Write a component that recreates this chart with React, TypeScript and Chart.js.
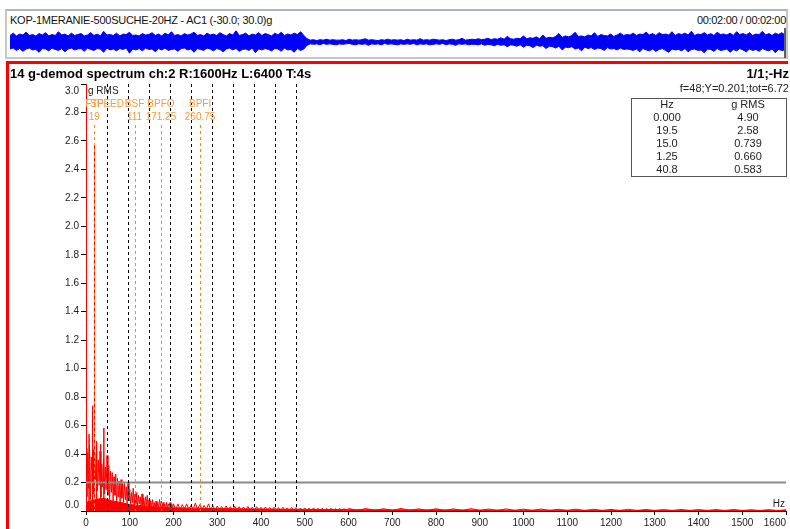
import React, { useEffect, useRef } from 'react';
import { Chart, registerables } from 'chart.js';

Chart.register(...registerables);

const FONT = '"Liberation Sans", Arial, Helvetica, sans-serif';
const ORANGE_LINE = '#ff8c00';
const ORANGE_TEXT = '#ff9933';

// ---------- Time waveform (envelope, g), 0.5 s steps over 120 s ----------
const waveStepS = 0.5;
const waveTop = [
  14, 19, 13, 17, 15, 21, 14, 16, 13, 18, 15, 20, 13, 16, 14, 22, 15, 17, 13, 19,
  14, 16, 18, 13, 15, 20, 14, 17, 13, 23, 15, 16, 14, 19, 13, 17, 16, 21, 14, 15,
  13, 18, 15, 16, 20, 14, 17, 13, 19, 15, 22, 14, 16, 13, 18, 15, 17, 21, 14, 16,
  13, 19, 15, 17, 14, 20, 16, 13, 18, 15, 24, 14, 16, 19, 13, 17, 15, 20, 14, 18,
  16, 13, 19, 15, 21, 14, 17, 15, 19, 16, 22, 14,
  7,
  4, 5, 3, 5, 4, 6, 4, 5, 4, 4, 5, 3, 6, 4, 5, 4, 5, 7, 4, 5,
  4, 3, 5, 4, 6, 4, 5, 4, 5, 3, 6, 4, 5, 4, 7, 4, 5, 4, 6, 5,
  4, 5, 3, 5, 6, 4, 5, 8, 4, 5, 6,
  5, 7, 5, 6, 8, 5, 7, 6, 9, 6, 12, 7, 6, 8, 7, 13, 7, 9, 8, 11, 7, 15, 8, 10,
  9, 12, 18, 10, 13, 11, 14, 21, 12, 13, 11, 15, 13, 20, 12, 16, 14, 13, 17, 12, 15, 19, 14, 16,
  15, 19, 14, 17, 16, 21, 15, 18, 14, 20, 16, 17, 15, 22, 14, 18, 16, 19, 15, 23,
  14, 17, 16, 20, 15, 18, 14, 21, 16, 17, 15, 19, 14, 22, 16, 18, 15, 20, 14, 17,
  16, 23, 15, 18, 14, 19, 16, 20, 15,
];
const waveBottom = [
  -15, -13, -18, -14, -20, -15, -13, -17, -16, -22, -14, -15, -19, -13, -16, -18, -14, -21, -15, -13,
  -17, -15, -14, -20, -13, -16, -18, -14, -15, -22, -13, -17, -15, -19, -14, -16, -13, -24, -15, -17,
  -14, -19, -13, -16, -15, -21, -14, -17, -13, -18, -16, -15, -20, -14, -13, -17, -15, -22, -14, -16,
  -18, -13, -15, -19, -14, -16, -21, -15, -13, -17, -14, -20, -16, -15, -18, -13, -23, -15, -17, -14,
  -16, -19, -14, -15, -20, -13, -17, -16, -22, -14, -18, -15,
  -7,
  -4, -5, -4, -6, -3, -5, -4, -5, -6, -4, -5, -4, -3, -5, -6, -4, -5, -4, -7, -4,
  -5, -4, -6, -3, -5, -4, -5, -6, -4, -5, -4, -5, -3, -6, -4, -5, -4, -6, -5, -4,
  -5, -3, -6, -4, -5, -7, -4, -5, -4, -6, -5,
  -5, -6, -4, -7, -5, -6, -8, -5, -7, -6, -10, -6, -7, -9, -6, -11, -7, -8, -12, -7, -9, -8, -14, -9,
  -10, -13, -9, -17, -11, -12, -10, -15, -13, -19, -11, -14, -12, -16, -13, -14, -18, -12, -15, -14, -17, -13, -16, -15,
  -16, -18, -15, -21, -14, -17, -19, -15, -20, -16, -14, -18, -22, -15, -17, -16, -19, -14, -21, -16,
  -15, -18, -17, -23, -15, -16, -20, -14, -18, -17, -15, -22, -16, -19, -14, -17, -21, -15, -18, -16,
  -20, -14, -17, -19, -15, -23, -16, -18, -17,
];

// ---------- Spectrum (g RMS) ----------
const lowBandStartHz = 0;
const lowBandStepHz = 2;
const lowBandAmp = [
  0.44, 0.1, 0.41, 0.16, 0.46, 0.08, 0.38, 0.2, 0.43, 0.12,
  0.39, 0.22, 0.45, 0.14, 0.36, 0.18, 0.42, 0.1, 0.33, 0.17,
  0.37, 0.12, 0.31, 0.15, 0.39, 0.11, 0.32, 0.08, 0.28, 0.13,
  0.27, 0.07, 0.24, 0.11, 0.26, 0.06, 0.23, 0.1, 0.21, 0.05,
  0.22, 0.09, 0.19, 0.06, 0.2, 0.08, 0.17, 0.05, 0.2, 0.07,
  0.15, 0.04, 0.13, 0.06, 0.16, 0.04, 0.12, 0.05, 0.13, 0.03,
  0.11, 0.05, 0.1, 0.03, 0.12, 0.04, 0.09, 0.03, 0.1, 0.04,
  0.11, 0.02, 0.08, 0.03, 0.07, 0.02, 0.08, 0.03, 0.06, 0.02,
  0.07, 0.03, 0.06, 0.02, 0.08, 0.03, 0.07, 0.02, 0.06, 0.03,
  0.05, 0.02, 0.06, 0.02, 0.05, 0.03, 0.06, 0.02, 0.05, 0.02,
  0.05,
];
const midBandStartHz = 205;
const midBandStepHz = 5;
const midBandAmp = [
  0.01, 0.05, 0.01, 0.045, 0.015, 0.05, 0.01, 0.04, 0.01, 0.055, 0.012, 0.045, 0.01, 0.04, 0.01, 0.05, 0.01, 0.038, 0.008, 0.035,
  0.008, 0.032, 0.007, 0.036, 0.008, 0.03, 0.006, 0.034, 0.007, 0.03, 0.006, 0.028, 0.007, 0.032, 0.006, 0.027, 0.006, 0.03, 0.005, 0.026,
  0.006, 0.028, 0.005, 0.025, 0.006, 0.027, 0.005, 0.024, 0.005, 0.026, 0.005, 0.022, 0.005, 0.025, 0.004, 0.024, 0.005, 0.021, 0.004, 0.022,
  0.004, 0.02, 0.004, 0.022, 0.004, 0.019, 0.004, 0.02, 0.003, 0.018, 0.004, 0.02, 0.003, 0.017, 0.004, 0.019, 0.003, 0.016, 0.003, 0.018,
];
const highBandStartHz = 620;
const highBandStepHz = 20;
const highBandAmp = [
  0.004, 0.017, 0.004, 0.016, 0.003, 0.018, 0.004, 0.015, 0.003, 0.016,
  0.003, 0.015, 0.003, 0.017, 0.003, 0.014, 0.003, 0.015, 0.003, 0.013,
  0.003, 0.014, 0.003, 0.012, 0.003, 0.013, 0.002, 0.012, 0.003, 0.011,
  0.002, 0.012, 0.002, 0.011, 0.002, 0.01, 0.002, 0.011, 0.002, 0.01,
  0.002, 0.01, 0.002, 0.011, 0.002, 0.009, 0.002, 0.01, 0.002, 0.009,
];
const floorHz = [0, 20, 40, 60, 80, 100, 120, 140, 160, 180, 200, 250, 300, 350, 400, 450, 500, 600, 700, 800, 900, 1000, 1200, 1400, 1600];
const floorAmp = [0.06, 0.08, 0.09, 0.07, 0.06, 0.045, 0.04, 0.033, 0.028, 0.025, 0.022, 0.02, 0.017, 0.015, 0.014, 0.012, 0.011, 0.009, 0.008, 0.008, 0.007, 0.006, 0.005, 0.005, 0.004];
const peakHz = [0, 1.25, 7.0, 15.0, 19.25, 19.5, 24.25, 33.5, 40.8];
const peakAmp = [4.9, 0.66, 0.54, 0.739, 1.67, 2.58, 0.49, 0.47, 0.583];

// ---------- Markers ----------
const speedHz = 48;
const speedHarmonicsHz = [48, 96, 144, 192, 240, 288, 336, 384, 432, 480];
const bearingNames = ['FTF', 'BSF', 'BPFO', 'BPFI'];
const bearingHz = [19, 111, 171.25, 260.75];
const bearingValueLabels = ['19', '111', '171.25', '260.75'];
const cursorY = 0.201;

// ---------- Axes ----------
const xMinHz = 0;
const xMaxHz = 1600;
const xStepHz = 100;
const yMin = 0;
const yMax = 3.0;
const yStep = 0.2;

// ---------- Peak table ----------
const tableHz = ['0.000', '19.5', '15.0', '1.25', '40.8'];
const tableRms = ['4.90', '2.58', '0.739', '0.660', '0.583'];

function band(start: number, step: number, amps: number[]) {
  return amps.map((a, i) => ({ x: start + i * step, y: a }));
}

const spectrumOverlay = {
  id: 'spectrumOverlay',
  afterDatasetsDraw(chart: any) {
    const { ctx, chartArea: a, scales } = chart;
    const x = scales.x;
    const y = scales.y;
    ctx.save();
    // cursor line
    const cy = y.getPixelForValue(cursorY);
    ctx.strokeStyle = '#8a8a8a';
    ctx.lineWidth = 2;
    ctx.beginPath();
    ctx.moveTo(a.left, cy);
    ctx.lineTo(a.right, cy);
    ctx.stroke();
    // speed harmonics
    ctx.lineWidth = 1;
    ctx.setLineDash([3, 3]);
    ctx.strokeStyle = '#000';
    for (const f of speedHarmonicsHz) {
      const px = Math.round(x.getPixelForValue(f)) + 0.5;
      ctx.beginPath();
      ctx.moveTo(px, a.top);
      ctx.lineTo(px, a.bottom);
      ctx.stroke();
    }
    ctx.strokeStyle = ORANGE_LINE;
    for (const f of bearingHz) {
      const px = Math.round(x.getPixelForValue(f)) + 0.5;
      ctx.beginPath();
      ctx.moveTo(px, a.top + 41);
      ctx.lineTo(px, a.bottom);
      ctx.stroke();
    }
    ctx.setLineDash([]);
    // marker labels
    ctx.font = `10px ${FONT}`;
    ctx.textAlign = 'center';
    ctx.textBaseline = 'middle';
    ctx.fillStyle = ORANGE_TEXT;
    bearingNames.forEach((n, i) => ctx.fillText(n, x.getPixelForValue(bearingHz[i]), a.top + 20));
    ctx.fillText('SPEED', x.getPixelForValue(speedHz), a.top + 20);
    bearingValueLabels.forEach((n, i) => ctx.fillText(n, x.getPixelForValue(bearingHz[i]), a.top + 33));
    // axis captions
    ctx.fillStyle = '#222';
    ctx.textAlign = 'left';
    ctx.fillText('g RMS', a.left + 2, a.top + 7);
    ctx.textAlign = 'right';
    ctx.fillText('Hz', a.right - 1, a.bottom - 7);
    // clamped end tick labels
    ctx.fillText(yMax.toFixed(1), a.left - 7, a.top + 7.5);
    ctx.fillText(yMin.toFixed(1), a.left - 7, a.bottom - 6);
    ctx.fillText(String(xMaxHz), a.right, a.bottom + 12);
    ctx.restore();
  },
};

export default function App() {
  const waveRef = useRef<HTMLCanvasElement>(null);
  const specRef = useRef<HTMLCanvasElement>(null);

  useEffect(() => {
    Chart.defaults.font.family = FONT;
    Chart.defaults.color = '#222';

    const wave = new Chart(waveRef.current as HTMLCanvasElement, {
      type: 'line',
      data: {
        datasets: [
          {
            data: waveTop.map((v, i) => ({ x: i * waveStepS, y: v })),
            fill: '+1',
            backgroundColor: '#0000ff',
            borderColor: '#0000ff',
            borderWidth: 1,
            pointRadius: 0,
            tension: 0,
          },
          {
            data: waveBottom.map((v, i) => ({ x: i * waveStepS, y: v })),
            fill: false,
            borderColor: '#0000ff',
            borderWidth: 1,
            pointRadius: 0,
            tension: 0,
          },
        ],
      },
      options: {
        responsive: true,
        maintainAspectRatio: false,
        animation: false,
        events: [],
        layout: { padding: 0 },
        plugins: { legend: { display: false }, tooltip: { enabled: false } },
        scales: {
          x: { type: 'linear', display: false, min: 0, max: 120 },
          y: { type: 'linear', display: false, min: -30, max: 30 },
        },
      },
    });

    const peakPoints: { x: number; y: number }[] = [];
    peakHz.forEach((f, i) => {
      peakPoints.push({ x: f, y: 0 }, { x: f, y: peakAmp[i] }, { x: f, y: 0 });
    });

    const spec = new Chart(specRef.current as HTMLCanvasElement, {
      type: 'line',
      data: {
        datasets: [
          {
            data: floorHz.map((f, i) => ({ x: f, y: floorAmp[i] })),
            fill: 'origin',
            backgroundColor: '#ff0000',
            borderColor: '#ff0000',
            borderWidth: 1,
            pointRadius: 0,
          },
          {
            data: [
              ...band(lowBandStartHz, lowBandStepHz, lowBandAmp),
              ...band(midBandStartHz, midBandStepHz, midBandAmp),
              ...band(highBandStartHz, highBandStepHz, highBandAmp),
            ],
            fill: false,
            borderColor: '#ff0000',
            borderWidth: 1,
            pointRadius: 0,
          },
          {
            data: peakPoints,
            fill: false,
            borderColor: '#ff0000',
            borderWidth: 1,
            pointRadius: 0,
          },
        ],
      },
      options: {
        responsive: true,
        maintainAspectRatio: false,
        animation: false,
        events: [],
        layout: { padding: { left: 56, top: 84, right: 4, bottom: 0 } },
        plugins: { legend: { display: false }, tooltip: { enabled: false } },
        scales: {
          x: {
            type: 'linear',
            min: xMinHz,
            max: xMaxHz,
            ticks: {
              stepSize: xStepHz,
              autoSkip: false,
              maxRotation: 0,
              padding: 2,
              font: { size: 10, family: FONT },
              color: '#222',
              callback: (v: any) => (Number(v) >= xMaxHz ? '' : String(v)),
            },
            grid: { display: true, drawOnChartArea: false, drawTicks: true, tickLength: 4, tickColor: '#000' },
            border: { display: true, color: '#000', width: 1 },
            afterFit: (s: any) => {
              s.height = 18;
            },
          },
          y: {
            type: 'linear',
            min: yMin,
            max: yMax,
            ticks: {
              stepSize: yStep,
              padding: 2,
              font: { size: 10, family: FONT },
              color: '#222',
              callback: (v: any) => {
                const n = Number(v);
                if (n > yMax - 0.01 || n < yMin + 0.01) return '';
                return n.toFixed(1);
              },
            },
            grid: { display: true, drawOnChartArea: false, drawTicks: true, tickLength: 5, tickColor: '#000' },
            border: { display: true, color: '#000', width: 1 },
            afterFit: (s: any) => {
              s.width = 30;
            },
          },
        },
      },
      plugins: [spectrumOverlay],
    });

    return () => {
      wave.destroy();
      spec.destroy();
    };
  }, []);

  const cell = (text: string, center: number, top: number, key: string) => (
    <div
      key={key}
      style={{
        position: 'absolute',
        left: center - 40,
        top,
        width: 80,
        textAlign: 'center',
        fontSize: 11,
        lineHeight: '13px',
        color: '#222',
      }}
    >
      {text}
    </div>
  );

  return (
    <div
      style={{
        position: 'fixed',
        left: 0,
        top: 0,
        width: 790,
        height: 529,
        overflow: 'hidden',
        background: '#fff',
        fontFamily: FONT,
      }}
    >
      <div style={{ position: 'absolute', left: 0, top: 0, width: 790, height: 529 }}>
        <canvas ref={specRef} />
      </div>

      {/* top waveform panel */}
      <div
        style={{
          position: 'absolute',
          left: 5,
          top: 9,
          width: 783,
          height: 50,
          boxSizing: 'border-box',
          border: '2px solid #c6c6c6',
          borderTopColor: '#a8b6c4',
          background: '#fff',
        }}
      />
      <div
        style={{
          position: 'absolute',
          left: 10,
          top: 14,
          fontSize: 11,
          lineHeight: '13px',
          letterSpacing: '-0.25px',
          color: '#111',
          whiteSpace: 'nowrap',
        }}
      >
        KOP-1MERANIE-500SUCHE-20HZ - AC1 (-30.0; 30.0)g
      </div>
      <div
        style={{
          position: 'absolute',
          right: 4,
          top: 14,
          fontSize: 11,
          lineHeight: '13px',
          letterSpacing: '-0.3px',
          color: '#111',
          whiteSpace: 'nowrap',
        }}
      >
        00:02:00 / 00:02:00
      </div>
      <div style={{ position: 'absolute', left: 10, top: 28, width: 775, height: 28 }}>
        <canvas ref={waveRef} />
      </div>
      <div style={{ position: 'absolute', left: 784, top: 28, width: 2, height: 30, background: '#606060' }} />

      {/* spectrum frame */}
      <div
        style={{
          position: 'absolute',
          left: 6,
          top: 61,
          width: 782,
          height: 480,
          boxSizing: 'border-box',
          borderTop: '3px solid #ff0000',
          borderLeft: '3px solid #ff0000',
        }}
      />
      <div
        style={{
          position: 'absolute',
          left: 10,
          top: 66,
          fontSize: 13,
          fontWeight: 'bold',
          lineHeight: '15px',
          color: '#000',
          whiteSpace: 'nowrap',
        }}
      >
        14 g-demod spectrum ch:2 R:1600Hz L:6400 T:4s
      </div>
      <div
        style={{
          position: 'absolute',
          right: 1,
          top: 66,
          fontSize: 13,
          fontWeight: 'bold',
          lineHeight: '15px',
          color: '#000',
          whiteSpace: 'nowrap',
        }}
      >
        1/1;-Hz
      </div>
      <div
        style={{
          position: 'absolute',
          right: 1,
          top: 82,
          fontSize: 11,
          lineHeight: '13px',
          color: '#222',
          whiteSpace: 'nowrap',
        }}
      >
        f=48;Y=0.201;tot=6.72
      </div>

      {/* peak table */}
      <div
        style={{
          position: 'absolute',
          left: 631,
          top: 98,
          width: 156,
          height: 79,
          boxSizing: 'border-box',
          border: '1px solid #555',
        }}
      />
      {cell('Hz', 667, 98, 'h0')}
      {cell('g RMS', 748, 98, 'h1')}
      {tableHz.map((t, i) => cell(t, 667, 111 + i * 13, 'a' + i))}
      {tableRms.map((t, i) => cell(t, 748, 111 + i * 13, 'b' + i))}
    </div>
  );
}
